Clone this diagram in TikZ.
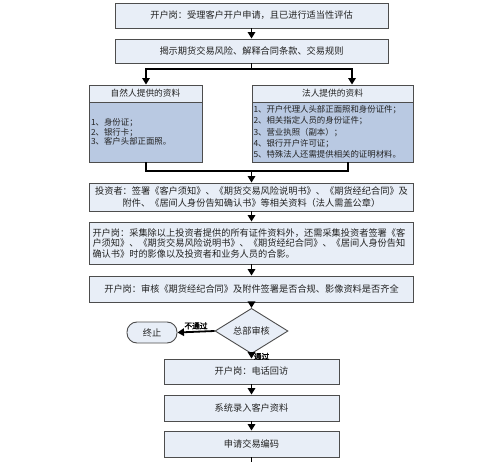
\documentclass[tikz,border=0pt]{standalone}
\usepackage{fontspec}
\setmainfont{Noto Sans CJK SC}[AutoFakeBold=2]
\usetikzlibrary{shapes.geometric,arrows.meta,calc}
\definecolor{boxfill}{HTML}{E8EEF7}
\definecolor{bodyfill}{HTML}{B9C9E2}
\definecolor{edge}{HTML}{4D4D4D}
\definecolor{txt}{HTML}{222222}
\tikzset{
  box/.style={draw=edge, fill=boxfill, line width=0.9pt, text=txt, inner sep=0pt,
    font=\fontsize{9.2}{11}\selectfont},
  body/.style={box, fill=bodyfill, font=\fontsize{8.4}{9.8}\selectfont},
  arr/.style={-{Triangle[length=6.5pt,width=7.5pt]}, line width=1.8pt, black},
  ln/.style={line width=1.8pt, black},
  lab/.style={font=\fontsize{7.7}{9}\selectfont\bfseries, text=black, inner sep=1.5pt}
}
\begin{document}
\begin{tikzpicture}[x=1pt,y=-1pt]
\useasboundingbox[fill=white] (0,0) rectangle (500,462);
\node[box, minimum width=273, minimum height=25] (b1) at (251.5,15.5) {开户岗：受理客户开户申请，且已进行适当性评估};
\node[box, minimum width=273, minimum height=24] (b2) at (251.5,51) {揭示期货交易风险、解释合同条款、交易规则};
\node[box, minimum width=113, minimum height=17, font=\fontsize{8.7}{10}\selectfont] (hL) at (145.5,93.5) {自然人提供的资料};
\node[body, minimum width=113, minimum height=60, text width=109, align=left] (bL) at (145.5,132) {1、身份证；\\2、银行卡；\\3、客户头部正面照。};
\node[box, minimum width=161, minimum height=17, font=\fontsize{8.7}{10}\selectfont] (hR) at (332.5,93.5) {法人提供的资料};
\node[body, minimum width=161, minimum height=60, text width=158, align=left, font=\fontsize{8.4}{11.2}\selectfont] (bR) at (332.5,132) {1、开户代理人头部正面照和身份证件；\\2、相关指定人员的身份证件；\\3、营业执照（副本）；\\4、银行开户许可证；\\5、特殊法人还需提供相关的证明材料。};
\node[box, minimum width=324, minimum height=28, text width=322, align=center, font=\fontsize{9.2}{11.5}\selectfont] (inv) at (251.5,197) {投资者：签署《客户须知》、《期货交易风险说明书》、《期货经纪合同》及\\附件、《居间人身份告知确认书》等相关资料（法人需盖公章）};
\node[box, minimum width=324, minimum height=42, text width=318, align=left, font=\fontsize{9.2}{10.5}\selectfont] (b3) at (251.5,243) {开户岗：采集除以上投资者提供的所有证件资料外，还需采集投资者签署《客\\户须知》、《期货交易风险说明书》、《期货经纪合同》、《居间人身份告知\\确认书》时的影像以及投资者和业务人员的合影。};
\node[box, minimum width=324, minimum height=26] (b4) at (251.5,289) {开户岗：审核《期货经纪合同》及附件签署是否合规、影像资料是否齐全};
\node[box, diamond, minimum width=73, minimum height=33] (dia) at (251.5,331) {总部审核};
\node[box, rounded corners=10pt, minimum width=50, minimum height=21] (stop) at (152,332.5) {终止};
\node[box, minimum width=175, minimum height=25] (b5) at (251.5,371.5) {开户岗：电话回访};
\node[box, minimum width=175, minimum height=26] (b6) at (251.5,408) {系统录入客户资料};
\node[box, minimum width=175, minimum height=26] (b7) at (251.5,444) {申请交易编码};
\coordinate (jL) at (146,69);
\coordinate (jR) at (352,69);
\coordinate (mL) at (146,171);
\coordinate (mR) at (348,171);
\coordinate (end) at (251.5,463);
\draw[arr] (b1) -- (b2);
\draw[arr] (b2.south) |- (jL) -- (jL |- hL.north);
\draw[arr] (b2.south) |- (jR) -- (jR |- hR.north);
\draw[ln] (mL |- bL.south) -- (mL) -- (mR) -- (mR |- bR.south);
\draw[arr] (inv.north |- mL) -- (inv.north);
\draw[arr] (inv) -- (b3);
\draw[arr] (b3) -- (b4);
\draw[arr] (b4) -- (dia);
\draw[arr] (dia.west) -- node[above, lab] {不通过} (stop.east);
\draw[arr] (dia.south) -- node[right, lab, pos=0.5] {通过} (b5.north);
\draw[arr] (b5) -- (b6);
\draw[arr] (b6) -- (b7);
\draw[ln] (b7.south) -- (end);
\end{tikzpicture}
\end{document}
